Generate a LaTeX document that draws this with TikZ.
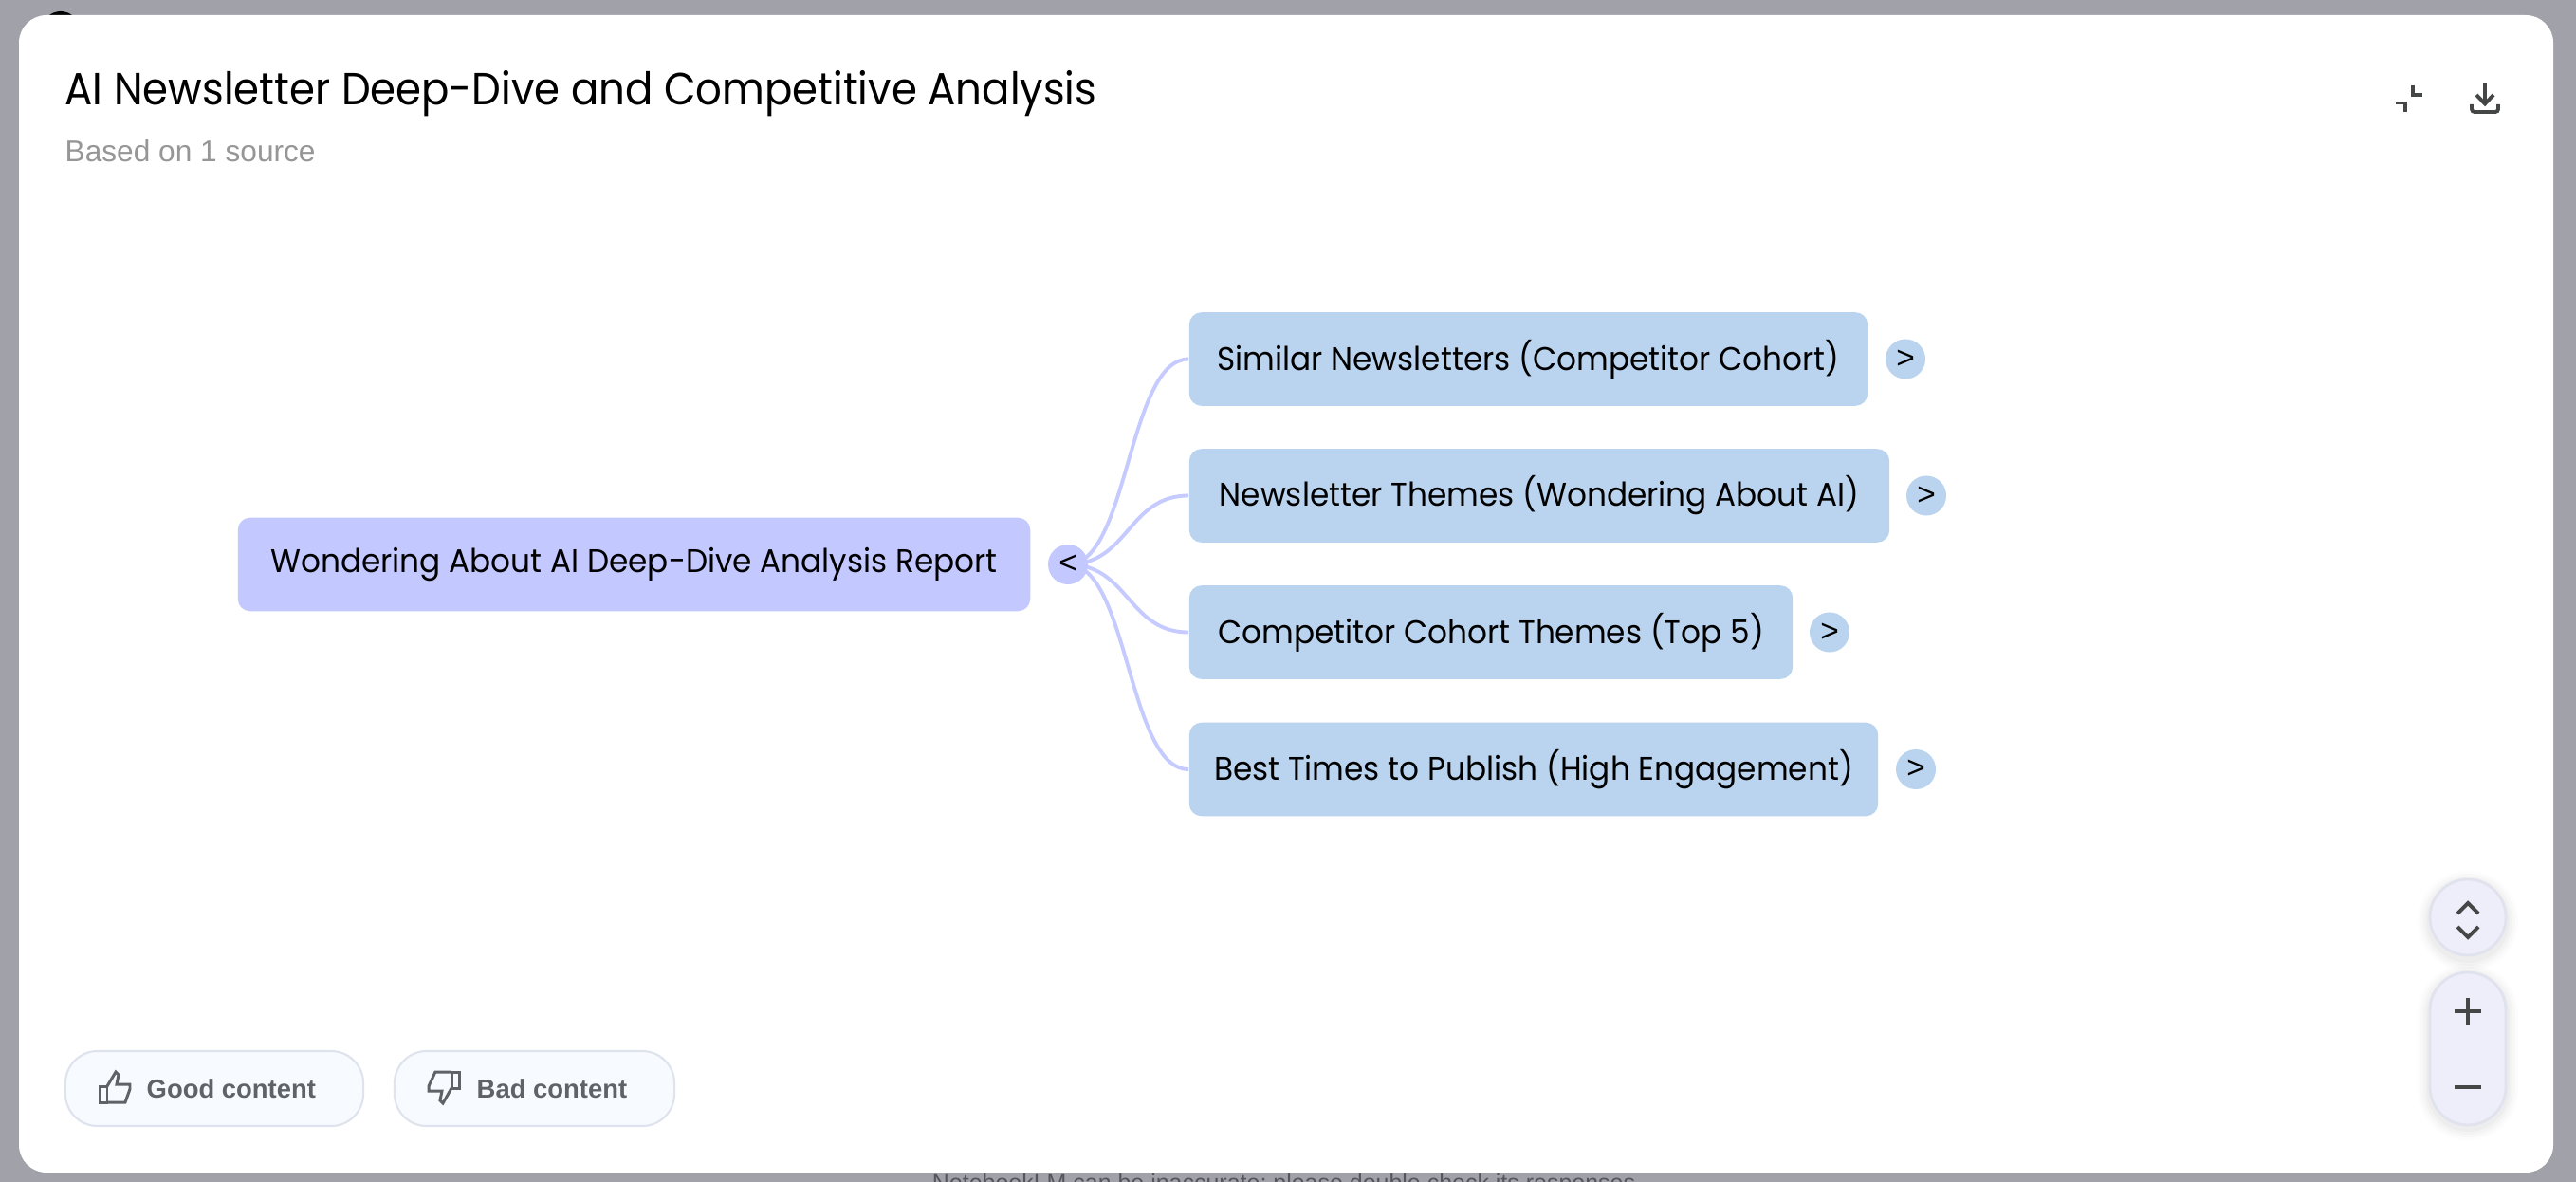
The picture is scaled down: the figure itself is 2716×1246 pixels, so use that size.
\documentclass[tikz,border=0pt]{standalone}
\usepackage{fontspec}
\setmainfont{Poppins}
\newfontfamily\uifont{Liberation Sans}
\newfontfamily\titlefont[FakeStretch=0.915]{Poppins}
\newfontfamily\mapfont[FakeStretch=0.95]{Poppins}
\definecolor{backdrop}{HTML}{A1A1AA}
\definecolor{rootfill}{HTML}{C3C8FF}
\definecolor{childfill}{HTML}{BAD4EF}
\definecolor{linkcol}{HTML}{C6CBFF}
\definecolor{iconcol}{HTML}{444746}
\definecolor{ctrlfill}{HTML}{EDEEF9}
\definecolor{ctrledge}{HTML}{E0E2EE}
\definecolor{btnfill}{HTML}{F7FAFF}
\definecolor{btnedge}{HTML}{DFE3EE}
\definecolor{btntext}{HTML}{5F6368}
\definecolor{subtext}{HTML}{969696}
\definecolor{foottext}{HTML}{55555C}
\tikzset{
  boxbase/.style={rounded corners=0.13cm,inner sep=0pt,minimum height=0.985cm,text=black,font=\mapfont\fontsize{9.8}{11}\selectfont},
  rootbox/.style={boxbase,fill=rootfill},
  childbox/.style={boxbase,fill=childfill},
  toggle/.style={circle,inner sep=0pt,minimum size=0.42cm,text=black,font=\uifont\fontsize{9.5}{10}\selectfont},
  roottoggle/.style={toggle,fill=rootfill},
  childtoggle/.style={toggle,fill=childfill},
  link/.style={draw=linkcol,line width=1.1pt},
  icon/.style={draw=iconcol,line width=1.1pt},
  thumbicon/.style={draw=btntext,line width=0.85pt,line join=miter},
  fbbtn/.style={draw=btnedge,line width=0.6pt,fill=btnfill,rounded corners=0.34cm,inner sep=0pt,minimum height=0.79cm},
  btnlabel/.style={inner sep=0pt,text=btntext,font=\uifont\bfseries\fontsize{7.8}{9}\selectfont},
  ctrl/.style={draw=ctrledge,line width=0.8pt,fill=ctrlfill}
}
\begin{document}
\begin{tikzpicture}[x=0.01cm,y=-0.01cm]
\useasboundingbox (0,0) rectangle (2716,1246);
\begin{scope}
\clip (0,0) rectangle (2716,1246);
\fill[backdrop] (0,0) rectangle (2716,1246);
\fill[black] (64,32) circle (20);
\node[inner sep=0pt,text=foottext,font=\uifont\fontsize{7.1}{9}\selectfont] (foot) at (1357,1249) {NotebookLM can be inaccurate; please double check its responses.};
\fill[white,rounded corners=0.29cm] (20,16) rectangle (2692,1236);
\end{scope}

\node[anchor=base west,inner sep=0pt,text=black,font=\titlefont\fontsize{13.5}{15}\selectfont] (title) at (68,111) {AI Newsletter Deep-Dive and Competitive Analysis};
\node[anchor=base west,inner sep=0pt,text=subtext,font=\uifont\fontsize{9}{11}\selectfont] (subtitle) at (68,171) {Based on 1 source};

% header icons
\draw[icon] (2526,108.5) -- (2536,108.5) -- (2536,118);
\draw[icon] (2544,90) -- (2544,100) -- (2554,100);
\draw[icon] (2620,88) -- (2620,110);
\draw[icon] (2611,100) -- (2620,109.5) -- (2629,100);
\draw[icon,rounded corners=0.03cm] (2606,110) -- (2606,118) -- (2634,118) -- (2634,110);

% map
\node[rootbox,minimum width=8.35cm] (root) at (668.5,595) {Wondering About AI Deep-Dive Analysis Report};
\node[childbox,minimum width=7.15cm] (c1) at (1611.5,378.5) {Similar Newsletters (Competitor Cohort)};
\node[childbox,minimum width=7.38cm] (c2) at (1623,522.5) {Newsletter Themes (Wondering About AI)};
\node[childbox,minimum width=6.36cm] (c3) at (1572,666.5) {Competitor Cohort Themes (Top 5)};
\node[childbox,minimum width=7.26cm] (c4) at (1617,811) {Best Times to Publish (High Engagement)};

\coordinate (hub) at (1126,595);
\draw[link] (hub) .. controls +(64,0) and +(-64,0) .. (c1.west);
\draw[link] (hub) .. controls +(64,0) and +(-64,0) .. (c2.west);
\draw[link] (hub) .. controls +(64,0) and +(-64,0) .. (c3.west);
\draw[link] (hub) .. controls +(64,0) and +(-64,0) .. (c4.west);

\node[roottoggle] (t0) at (hub) {<};
\node[childtoggle] (t1) at (2009,378.5) {>};
\node[childtoggle] (t2) at (2031,522.5) {>};
\node[childtoggle] (t3) at (1929,666.5) {>};
\node[childtoggle] (t4) at (2020,811) {>};

% feedback buttons
\node[fbbtn,minimum width=3.14cm] (good) at (226,1147.5) {};
\node[fbbtn,minimum width=2.95cm] (bad) at (563.5,1147.5) {};
\node[btnlabel,anchor=west] (goodt) at (154,1147.5) {Good content};
\node[btnlabel,anchor=west] (badt) at (502,1147.5) {Bad content};
\draw[thumbicon] (105,1145) rectangle (113,1162);
\draw[thumbicon] (113,1145) -- (122,1130) -- (125,1133) -- (123,1143) -- (137,1143) -- (137,1148) -- (132,1162) -- (113,1162);
\draw[thumbicon] (476,1130) rectangle (484,1147);
\draw[thumbicon] (476,1130) -- (459,1130) -- (452,1145) -- (452,1150) -- (466,1150) -- (464,1160) -- (467,1163) -- (476,1147);

% zoom controls
\foreach \e/\o in {12/0.012,9/0.015,6/0.02,3/0.025}{
  \fill[black,opacity=\o] (2602,971) circle ({41+\e});
  \fill[black,opacity=\o,rounded corners={(41+\e)*0.01cm}] (2561-\e,1024-\e+4) rectangle (2643+\e,1186+\e+4);
}
\draw[ctrl] (2602,967) circle (40);
\draw[ctrl,rounded corners=0.40cm] (2562,1025) rectangle (2642,1186);
\draw[icon] (2591,963) -- (2602,952) -- (2613,963);
\draw[icon] (2591,977) -- (2602,988) -- (2613,977);
\draw[icon] (2588,1066) -- (2616,1066);
\draw[icon] (2602,1052) -- (2602,1080);
\draw[icon] (2588,1146) -- (2616,1146);
\end{tikzpicture}
\end{document}
